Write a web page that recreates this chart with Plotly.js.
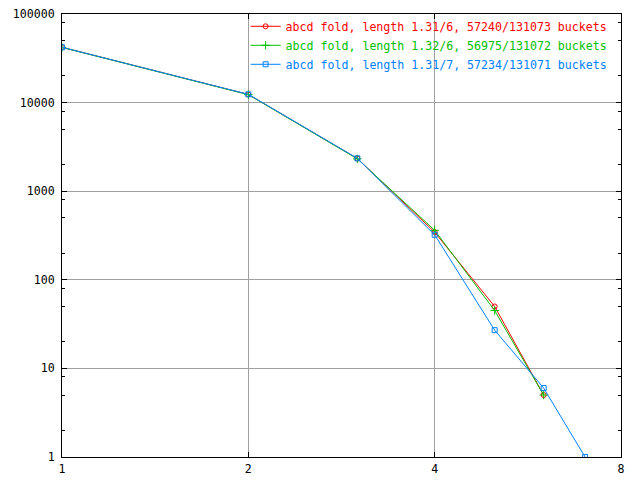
<!DOCTYPE html>
<html>
<head>
<meta charset="utf-8">
<script src="https://cdn.plot.ly/plotly-3.0.1.min.js"></script>
<style>html,body{margin:0;padding:0;background:#fff;}#chart{width:640px;height:480px;}</style>
</head>
<body>
<div id="chart"></div>
<script>
// Chain length (x) vs number of buckets (y)
const lengthsRed   = [1, 2, 3, 4, 5, 6];
const countsRed    = [42150, 12350, 2340, 345, 50, 5];
const lengthsGreen = [1, 2, 3, 4, 5, 6];
const countsGreen  = [41950, 12300, 2320, 362, 45, 5];
const lengthsBlue  = [1, 2, 3, 4, 5, 6, 7];
const countsBlue   = [42100, 12400, 2350, 322, 27, 6, 1];

const seriesNames = [
  'abcd fold, length 1.31/6, 57240/131073 buckets',
  'abcd fold, length 1.32/6, 56975/131072 buckets',
  'abcd fold, length 1.31/7, 57234/131071 buckets'
];
const seriesColors = ['#ff0000', '#00c000', '#0080ff'];

const xTickVals = [1, 2, 4, 8];
const xTickText = ['1', '2', '4', '8'];
const yTickVals = [1, 10, 100, 1000, 10000, 100000];
const yTickText = ['1', '10', '100', '1000', '10000', '100000'];
const yMinorVals = [2, 5, 8, 20, 50, 80, 200, 500, 800, 2000, 5000, 8000, 20000, 50000, 80000];

const font = 'DejaVu Sans Mono, monospace';

function mk(x, y, i, symbol, size) {
  return {
    x: x, y: y, type: 'scatter', mode: 'lines+markers',
    name: '<span style="color:' + seriesColors[i] + '">' + seriesNames[i] + '</span>',
    line: {color: seriesColors[i], width: 1},
    marker: {symbol: symbol, size: size, color: seriesColors[i], line: {color: seriesColors[i], width: 1}}
  };
}

const data = [
  mk(lengthsRed, countsRed, 0, 'circle-open', 5),
  mk(lengthsGreen, countsGreen, 1, 'cross-thin-open', 6),
  mk(lengthsBlue, countsBlue, 2, 'square-open', 5)
];

const axisCommon = {
  type: 'log',
  showline: true, linecolor: '#000', linewidth: 1, mirror: 'ticks',
  ticks: 'inside', ticklen: 5, tickcolor: '#000', tickwidth: 1,
  showgrid: true, gridcolor: '#a0a0a0', gridwidth: 1,
  zeroline: false,
  tickfont: {family: font, size: 11.6, color: '#000'},
  tickmode: 'array'
};

const layout = {
  width: 640, height: 480,
  margin: {l: 62, r: 19, t: 14, b: 23, autoexpand: false},
  paper_bgcolor: '#fff', plot_bgcolor: '#fff',
  font: {family: font, size: 11.6, color: '#000'},
  showlegend: true,
  legend: {
    x: 0.985, xanchor: 'right', y: 1.005, yanchor: 'top',
    bgcolor: 'rgba(0,0,0,0)', borderwidth: 0,
    font: {family: font, size: 11.6},
    itemwidth: 30
  },
  xaxis: Object.assign({}, axisCommon, {
    range: [0, Math.log10(8)],
    tickvals: xTickVals, ticktext: xTickText,
    ticklabelstandoff: 1
  }),
  yaxis: Object.assign({}, axisCommon, {
    range: [0, 5],
    tickvals: yTickVals, ticktext: yTickText,
    ticklabelstandoff: 4,
    minor: {tickmode: 'array', tickvals: yMinorVals, ticks: 'inside', ticklen: 3, tickcolor: '#000', showgrid: false}
  })
};

Plotly.newPlot('chart', data, layout, {displayModeBar: false, staticPlot: true});
</script>
</body>
</html>
